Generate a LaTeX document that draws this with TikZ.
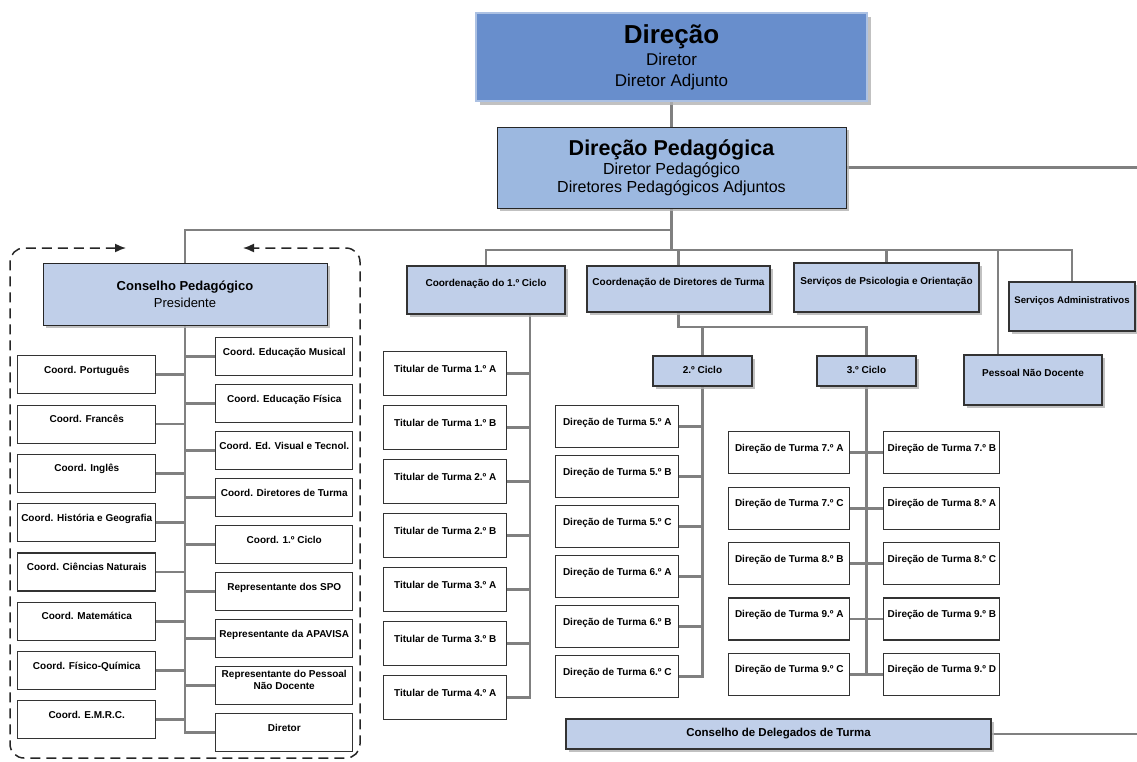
\documentclass[tikz,border=0pt]{standalone}
\usepackage{fontspec}
\setmainfont{Liberation Sans}
\usetikzlibrary{positioning,matrix,shadows,backgrounds,arrows.meta}

\definecolor{dirblue}{RGB}{104,142,204}
\definecolor{pedblue}{RGB}{156,184,224}
\definecolor{lightblue}{RGB}{192,207,233}
\definecolor{conn}{RGB}{128,128,128}

\begin{document}
\begin{tikzpicture}[x=1pt, y=-1pt,
    ln/.style={draw=conn, line width=2.8pt, line cap=rect},
    shd/.style={drop shadow={shadow xshift=3pt, shadow yshift=-3pt, fill=black!30, opacity=.8}},
    cell/.style={draw=black!80, line width=1.1pt, fill=white, inner xsep=1pt, inner ysep=0pt,
      font=\bfseries\fontsize{10}{12}\selectfont, text height=7pt, text depth=10pt},
    head/.style={cell, fill=lightblue, shd, text depth=14pt},
    col/.style={matrix of nodes, ampersand replacement=\&, inner sep=0pt,
      anchor=north west, nodes={cell, anchor=center}},
  ]
\useasboundingbox (0,0) rectangle (1137,761);

% top
\node[draw=black!85, line width=.7pt, double=dirblue!55!white, double distance=1.2pt,
  fill=dirblue, minimum width=391pt, minimum height=88pt, align=center,
  drop shadow={shadow xshift=4pt, shadow yshift=-4pt, fill=black!30, opacity=.8},
  font=\fontsize{17}{21}\selectfont] (dir) at (671.5,57)
  {{\fontsize{26}{28}\selectfont\bfseries Direção}\\[1pt]Diretor\\Diretor Adjunto};
\node[draw=black!85, line width=1pt, fill=pedblue, shd, minimum width=349pt,
  minimum height=81pt, align=center, font=\fontsize{16}{18}\selectfont] (dp) at (671.5,167.5)
  {{\fontsize{21.5}{24}\selectfont\bfseries Direção Pedagógica}\\[1pt]Diretor Pedagógico\\Diretores Pedagógicos Adjuntos};

\node[draw=black!85, line width=1pt, fill=lightblue, shd, minimum width=284pt,
  minimum height=62pt, align=center, font=\fontsize{13}{17}\selectfont] (cp) at (185,294)
  {\textbf{Conselho Pedagógico}\\Presidente};

% coordenacoes
\node[head, minimum width=158pt, minimum height=48pt] (c1) at (486,290) {Coordenação do 1.º Ciclo};
\node[head, minimum width=183pt, minimum height=46pt] (cdt) at (678.5,289) {Coordenação de Diretores de Turma};
\node[head, minimum width=185pt, minimum height=49pt] (spo) at (886.5,287.5) {Serviços de Psicologia e Orientação};
\node[head, minimum width=126pt, minimum height=49pt, font=\bfseries\fontsize{9.6}{12}\selectfont] (sa) at (1072,306.5) {Serviços Administrativos};
\node[head, minimum width=138pt, minimum height=50pt] (pnd) at (1033,380) {Pessoal Não Docente};
\node[head, text depth=2pt, minimum width=99pt, minimum height=30pt] (c2) at (702.5,371) {2.º Ciclo};
\node[head, text depth=2pt, minimum width=99pt, minimum height=30pt] (c3) at (866.5,371) {3.º Ciclo};
\node[head, text depth=2pt, minimum width=425pt, minimum height=30pt,
  font=\bfseries\fontsize{11.5}{14}\selectfont] (cdel) at (778.5,734) {Conselho de Delegados de Turma};

% conselho pedagogico
\matrix[col, row sep=10.2pt, nodes={minimum width=138pt, minimum height=38pt}] (L) at (17,355) {
  Coord. Português \\
  Coord. Francês \\
  Coord. Inglês \\
  Coord. História e Geografia \\
  Coord. Ciências Naturais \\
  Coord. Matemática \\
  Coord. Físico-Química \\
  Coord. E.M.R.C. \\
};
\matrix[col, row sep=7.9pt, nodes={minimum width=137pt, minimum height=38pt}] (R) at (215,337) {
  Coord. Educação Musical \\
  Coord. Educação Física \\
  Coord. Ed. Visual e Tecnol. \\
  Coord. Diretores de Turma \\
  Coord. 1.º Ciclo \\
  Representante dos SPO \\
  Representante da APAVISA \\
  |[text height=19pt, text depth=11.2pt]| \begin{tabular}[b]{@{}c@{}}Representante do Pessoal\\Não Docente\end{tabular} \\
  Diretor \\
};

% turmas
\matrix[col, row sep=8.9pt, nodes={minimum width=123pt, minimum height=44pt}] (T) at (383,351) {
  Titular de Turma 1.º A \\
  Titular de Turma 1.º B \\
  Titular de Turma 2.º A \\
  Titular de Turma 2.º B \\
  Titular de Turma 3.º A \\
  Titular de Turma 3.º B \\
  Titular de Turma 4.º A \\
};
\matrix[col, row sep=6.9pt, nodes={minimum width=123pt, minimum height=42pt}] (A) at (555,405) {
  Direção de Turma 5.º A \\
  Direção de Turma 5.º B \\
  Direção de Turma 5.º C \\
  Direção de Turma 6.º A \\
  Direção de Turma 6.º B \\
  Direção de Turma 6.º C \\
};
\matrix[col, row sep=12.3pt, column sep=33pt, nodes={minimum width=121pt, minimum height=42pt},
  column 2/.style={nodes={minimum width=116pt}}] (B) at (728,431) {
  Direção de Turma 7.º A \& Direção de Turma 7.º B \\
  Direção de Turma 7.º C \& Direção de Turma 8.º A \\
  Direção de Turma 8.º B \& Direção de Turma 8.º C \\
  Direção de Turma 9.º A \& Direção de Turma 9.º B \\
  Direção de Turma 9.º C \& Direção de Turma 9.º D \\
};

\coordinate (rt1) at (1137,167.5);
\coordinate (rt2) at (1137,734);
\coordinate (bus) at (671,250);
\coordinate (cpbus) at (671,230);
\coordinate (pndx) at (998,250);
\coordinate (cyc) at (678.5,327);
\coordinate (tsp) at (530,314);

\begin{scope}[on background layer]
  \draw[ln] (dir) -- (dp);
  \draw[ln] (dp.east) -- (rt1);
  \draw[ln] (dp.south) -- (dp.south |- bus);
  \draw[ln] (dp.south |- cpbus) -| (cp.north);
  \draw[ln] (c1.north) |- (bus -| sa.north) -- (sa.north);
  \draw[ln] (cdt.north) -- (cdt.north |- bus);
  \draw[ln] (spo.north) -- (spo.north |- bus);
  \draw[ln] (pndx) -- (pndx |- pnd.north);
  \draw[ln] (cdt.south) |- (c3.north |- cyc) -- (c3.north);
  \draw[ln] (c2.north) -- (c2.north |- cyc);
  \draw[ln] (cdel.east) -- (rt2);
  % conselho
  \draw[ln] (cp.south) |- (R-9-1.west);
  \draw[ln] (L-1-1.east) -- (L-1-1.east -| cp.south)
    (L-2-1.east) -- (L-2-1.east -| cp.south)
    (L-3-1.east) -- (L-3-1.east -| cp.south)
    (L-4-1.east) -- (L-4-1.east -| cp.south)
    (L-5-1.east) -- (L-5-1.east -| cp.south)
    (L-6-1.east) -- (L-6-1.east -| cp.south)
    (L-7-1.east) -- (L-7-1.east -| cp.south)
    (L-8-1.east) -- (L-8-1.east -| cp.south);
  \draw[ln] (R-1-1.west) -- (R-1-1.west -| cp.south)
    (R-2-1.west) -- (R-2-1.west -| cp.south)
    (R-3-1.west) -- (R-3-1.west -| cp.south)
    (R-4-1.west) -- (R-4-1.west -| cp.south)
    (R-5-1.west) -- (R-5-1.west -| cp.south)
    (R-6-1.west) -- (R-6-1.west -| cp.south)
    (R-7-1.west) -- (R-7-1.west -| cp.south)
    (R-8-1.west) -- (R-8-1.west -| cp.south);
  % 1.o ciclo
  \draw[ln] (c1.south -| tsp) |- (T-7-1.east);
  \draw[ln] (T-1-1.east) -- (T-1-1.east -| tsp)
    (T-2-1.east) -- (T-2-1.east -| tsp)
    (T-3-1.east) -- (T-3-1.east -| tsp)
    (T-4-1.east) -- (T-4-1.east -| tsp)
    (T-5-1.east) -- (T-5-1.east -| tsp)
    (T-6-1.east) -- (T-6-1.east -| tsp);
  % 2.o ciclo
  \draw[ln] (c2.south) |- (A-6-1.east);
  \draw[ln] (A-1-1.east) -- (A-1-1.east -| c2.south)
    (A-2-1.east) -- (A-2-1.east -| c2.south)
    (A-3-1.east) -- (A-3-1.east -| c2.south)
    (A-4-1.east) -- (A-4-1.east -| c2.south)
    (A-5-1.east) -- (A-5-1.east -| c2.south);
  % 3.o ciclo
  \draw[ln] (c3.south) -- (c3.south |- B-5-1.east);
  \draw[ln] (B-1-1.east) -- (B-1-2.west)
    (B-2-1.east) -- (B-2-2.west)
    (B-3-1.east) -- (B-3-2.west)
    (B-4-1.east) -- (B-4-2.west)
    (B-5-1.east) -- (B-5-2.west);
\end{scope}

% circulo do conselho
\draw[black!85, line width=1.5pt, dash pattern=on 10pt off 6pt, rounded corners=14pt,
  {Latex[length=11pt,width=9pt]}-{Latex[length=11pt,width=9pt]}]
  (126,248) -- (10,248) -- (10,758) -- (360,758) -- (360,248) -- (243,248);
\end{tikzpicture}
\end{document}
